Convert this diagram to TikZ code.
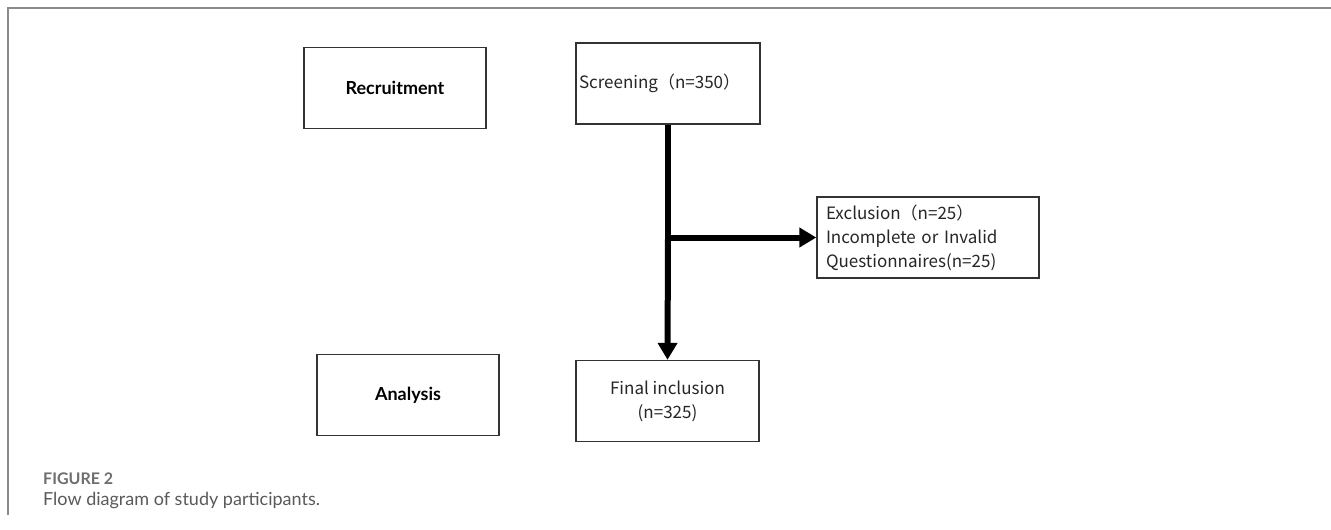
\documentclass[tikz,border=0pt]{standalone}
\usepackage{fontspec}
\setmainfont{Lato}
\newfontfamily\cjk{Noto Sans CJK SC}
\newfontfamily\boldsans{Lato Bold}
\usetikzlibrary{arrows.meta}
\definecolor{framegray}{HTML}{8A8A8A}
\definecolor{boxline}{HTML}{333333}
\definecolor{captiongray}{HTML}{6E6E6E}
\definecolor{captiontext}{HTML}{5A5A5A}
\begin{document}
\begin{tikzpicture}[x=1pt,y=-1pt,
  box/.style={draw=boxline,line width=1.4pt,minimum height=81pt,inner sep=0pt},
  labelbox/.style={box,minimum width=182pt,font=\boldsans\fontsize{18}{21}\selectfont},
  textbox/.style={box,font=\cjk\fontsize{17}{24}\selectfont,text=black!85},
  flow/.style={line width=6pt,-{Triangle[length=17pt,width=19pt]}}
]
\useasboundingbox[fill=white] (0,0) rectangle (1331,530);
% frame
\draw[framegray,line width=2pt] (8,515) -- (8,8) -- (1331,8);
% nodes
\node[labelbox] (rec) at (395,88) {Recruitment};
\node[labelbox] (ana) at (408,395) {Analysis};
\node[textbox,minimum width=184pt,text width=178pt,inner xsep=3pt,align=left] (scr) at (668,83.5) {Screening（n=350）};
\node[textbox,minimum width=222pt,text width=204pt,inner xsep=9pt,align=left] (exc) at (928,237.5) {Exclusion（n=25）\\Incomplete or Invalid\\Questionnaires(n=25)};
\node[textbox,minimum width=183pt,align=center] (fin) at (667.5,401) {Final inclusion\\(n=325)};
\coordinate (br) at (scr.south |- exc.west);
% connectors
\draw[flow,-] (scr.south) -- (br);
\draw[flow] (br) -- (fin.north);
\draw[flow] ([xshift=-3pt]br) -- (exc.west);
% caption
\node[anchor=base west,inner sep=0pt,text=captiongray,font=\boldsans\fontsize{16}{18}\selectfont] (figlab) at (43,484) {FIGURE 2};
\node[anchor=base west,inner sep=0pt,text=captiontext,font=\fontsize{18}{21}\selectfont] (cap) at (43,505) {Flow diagram of study participants.};
\end{tikzpicture}
\end{document}
